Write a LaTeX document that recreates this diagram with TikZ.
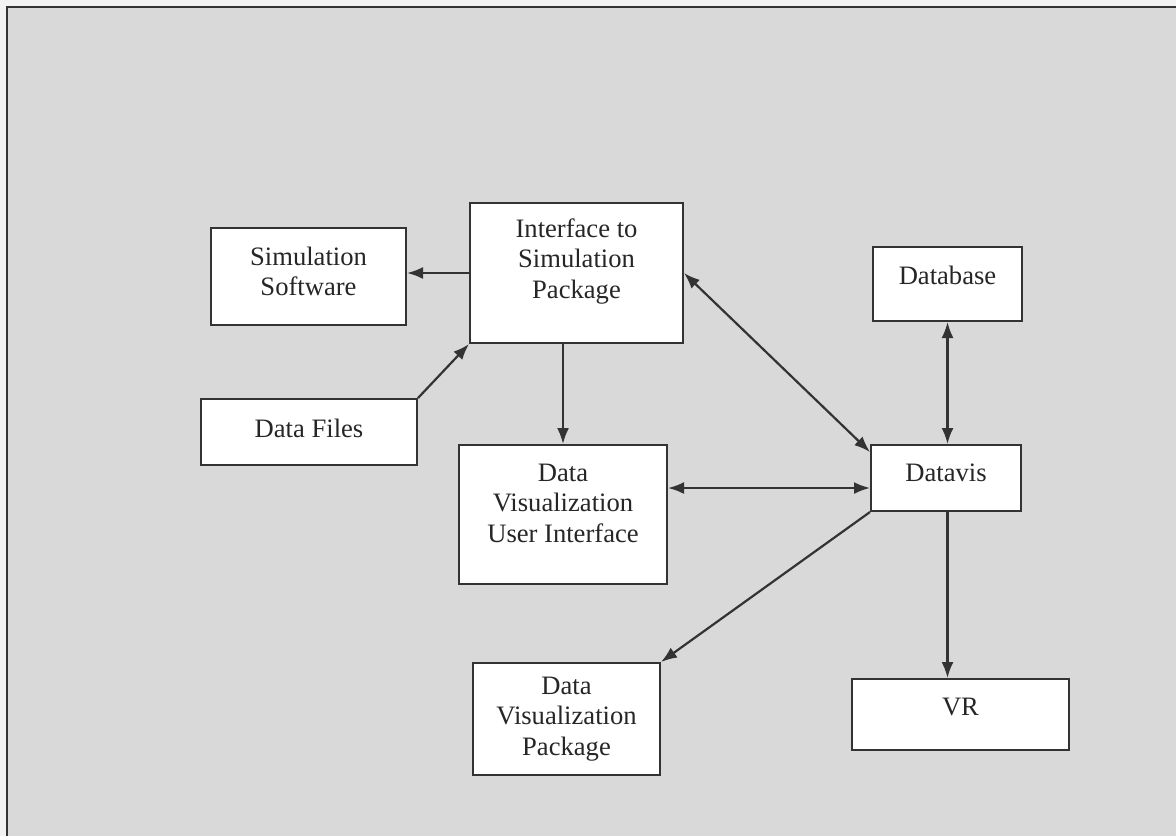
\documentclass[tikz,border=0pt]{standalone}
\usepackage{fontspec}
\setmainfont{Liberation Serif}
\usetikzlibrary{arrows.meta}
\begin{document}
\begin{tikzpicture}[x=0.5pt, y=-0.5pt,
  block/.style={draw=black!80, line width=1pt, fill=white, align=center, text=black!85,
    inner sep=0pt, font=\fontsize{13.3}{15.2}\selectfont},
  arr/.style={-{Latex[length=8pt,width=6pt]}, draw=black!80, line width=1.1pt},
  dbl/.style={{Latex[length=8pt,width=6pt]}-{Latex[length=8pt,width=6pt]}, draw=black!80, line width=1.1pt}]
\useasboundingbox (0,0) rectangle (1176,836);
\fill[white!95!black] (0,0) rectangle (1176,836);
\fill[gray!30] (7,7) rectangle (1176,836);
\draw[black!80, line width=1pt] (7,836) -- (7,7) -- (1176,7);
\node[block, minimum width=97.5pt, minimum height=48.5pt, text depth=5pt] (sim) at (308.5,276.5) {Simulation\\Software};
\node[block, minimum width=106.5pt, minimum height=70pt, text depth=14.5pt] (iface) at (576.5,273) {Interface to\\Simulation\\Package};
\node[block, minimum width=108pt, minimum height=33pt, text depth=4pt] (files) at (309,432) {Data Files};
\node[block, minimum width=74.5pt, minimum height=37pt, text depth=9pt] (dbase) at (947.5,284) {Database};
\node[block, minimum width=104pt, minimum height=69.5pt, text depth=11.5pt] (dvui) at (563,514.5) {Data\\Visualization\\User Interface};
\node[block, minimum width=75pt, minimum height=33pt, text depth=5pt] (datavis) at (946,478) {Datavis};
\node[block, minimum width=93.5pt, minimum height=56pt] (dvp) at (566.5,719) {Data\\Visualization\\Package};
\node[block, minimum width=108.5pt, minimum height=35.5pt, text depth=7.5pt] (vr) at (960.5,714.5) {VR};
\coordinate (hlink) at ([yshift=-5pt]datavis.west);
\draw[arr] (iface.west) -- (iface.west -| sim.east);
\draw[arr] (files.north east) -- (iface.south west);
\draw[arr] (dvui.north |- iface.south) -- (dvui.north);
\draw[dbl] (iface.east) -- ([yshift=-4pt]datavis.north west);
\draw[dbl] (dbase.south) -- (dbase.south |- datavis.north);
\draw[dbl] (dvui.east |- hlink) -- (hlink);
\draw[arr] (datavis.south west) -- (dvp.north east);
\draw[arr] (dbase.south |- datavis.south) -- (dbase.south |- vr.north);
\end{tikzpicture}
\end{document}
